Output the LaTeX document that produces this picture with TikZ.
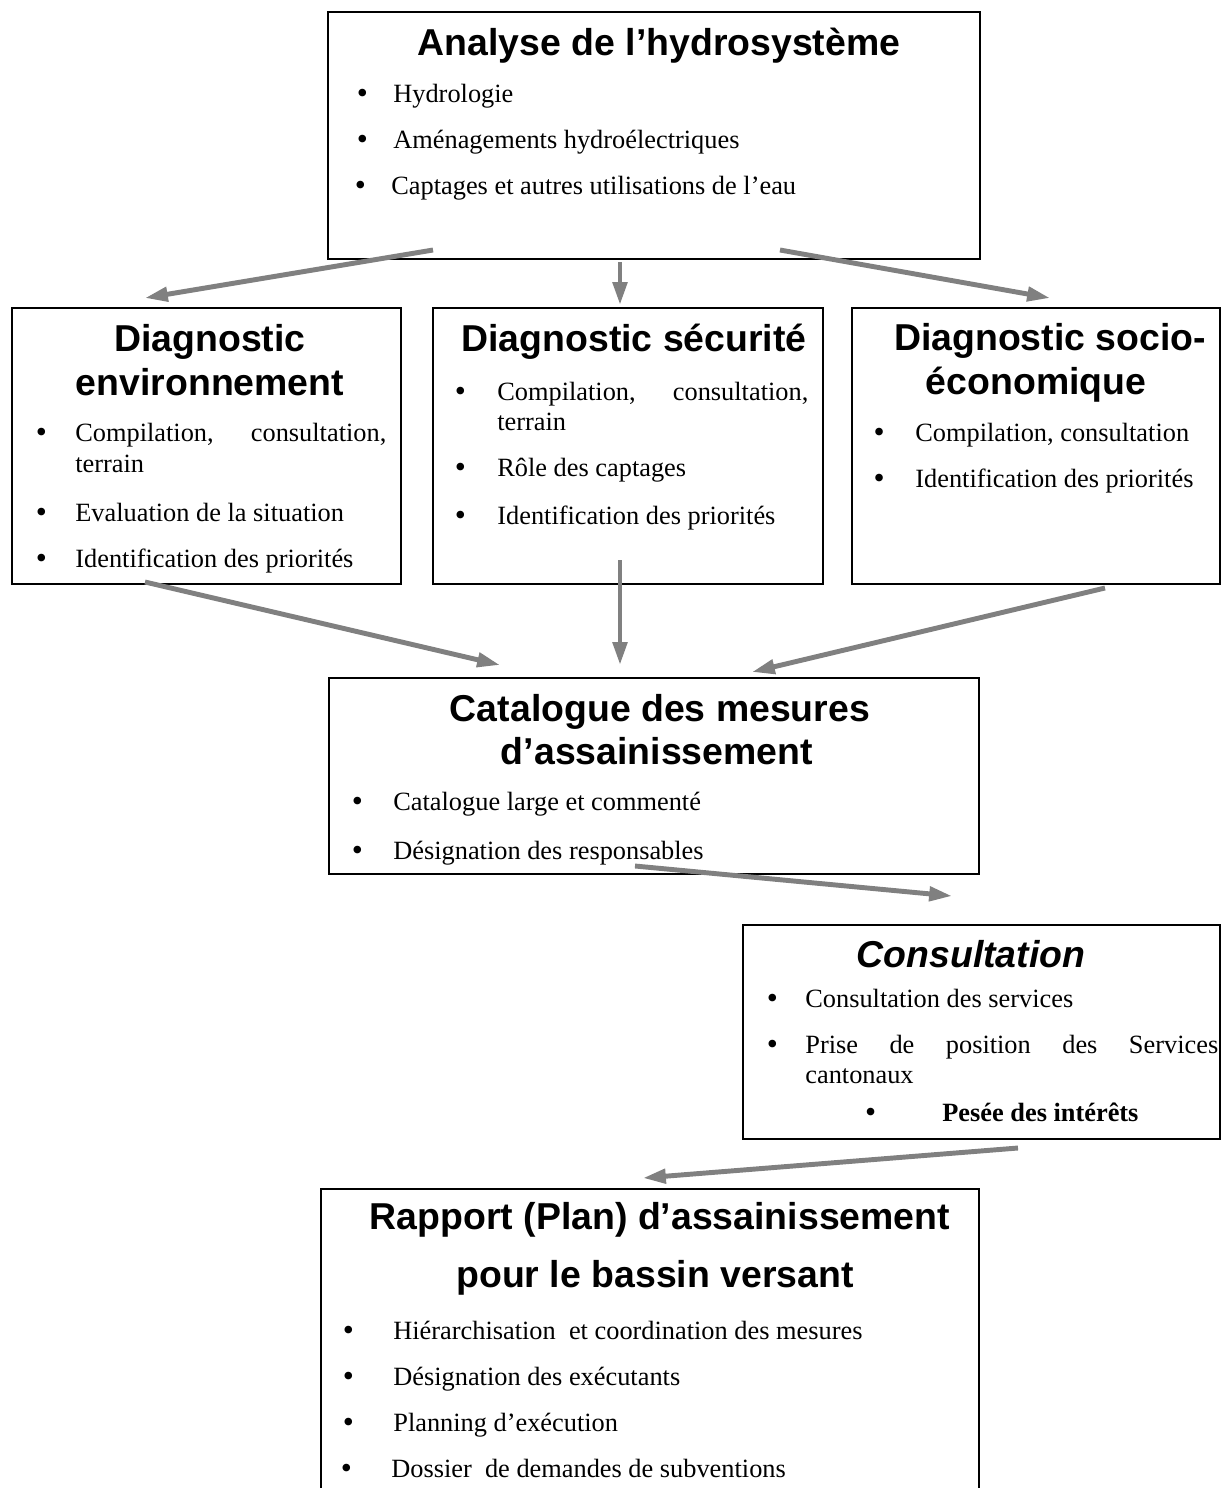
\documentclass[tikz,border=0pt]{standalone}
\usepackage{fontspec}
\setmainfont{Liberation Serif}
\setsansfont{Liberation Sans}
\usetikzlibrary{arrows.meta,calc}

\definecolor{gris}{HTML}{808080}
\newcommand{\corps}{\fontsize{15}{17}\selectfont}
\newcommand{\titrefont}{\sffamily\bfseries\fontsize{21.3}{25}\selectfont}
\newcommand{\puce}[2][17pt]{\llap{\raisebox{-0.8pt}{\fontsize{18}{18}\selectfont\textbullet}\hspace{#1}}#2}

\begin{document}
\begin{tikzpicture}[
    x=0.02cm, y=-0.02cm,
    bloc/.style={rectangle, draw, line width=1.3pt, inner sep=0, anchor=north west},
    titre/.style={anchor=base, inner sep=0, font=\titrefont},
    item/.style={anchor=base west, inner sep=0, font=\corps},
    arrow/.style={-{Triangle[length=13pt,width=8pt]}, line width=2.8pt, draw=gris}
]
\useasboundingbox (0,0) rectangle (1221,1488);

% Boxes
\node[bloc, minimum width=13.04cm, minimum height=4.94cm] (ana) at (327,11) {};
\node[bloc, minimum width=7.78cm, minimum height=5.52cm] (env) at (11,307) {};
\node[bloc, minimum width=7.8cm, minimum height=5.52cm] (secu) at (432,307) {};
\node[bloc, minimum width=7.36cm, minimum height=5.52cm] (socio) at (851,307) {};
\node[bloc, minimum width=13cm, minimum height=3.92cm] (cat) at (328,677) {};
\node[bloc, minimum width=9.54cm, minimum height=4.28cm] (consult) at (742,924) {};
\node[bloc, minimum width=13.16cm, minimum height=6.64cm] (rapport) at (320,1188) {};

% Analyse
\node[titre] (ana-t) at (659,55) {Analyse de l’hydrosystème};
\node[item] (ana-1) at (393,102) {\puce[14.5pt]{Hydrologie}};
\node[item] (ana-2) at (393,148) {\puce[14.5pt]{Aménagements hydroélectriques}};
\node[item] (ana-3) at (391,194) {\puce[14.5pt]{Captages et autres utilisations de l’eau}};

% Diagnostic environnement
\node[titre] (env-t1) at (210,351) {Diagnostic};
\node[titre] (env-t2) at (210,395) {environnement};
\node[item] (env-1) at (75,441) {\puce[16.2pt]{\makebox[177pt][s]{Compilation, consultation,}}};
\node[item] (env-1b) at (75,472) {terrain};
\node[item] (env-2) at (75,521) {\puce[16.2pt]{Evaluation de la situation}};
\node[item] (env-3) at (75,567) {\puce[16.2pt]{Identification des priorités}};

% Diagnostic securite
\node[titre] (secu-t) at (634,351) {Diagnostic sécurité};
\node[item] (secu-1) at (497,400) {\puce[17.9pt]{\makebox[177pt][s]{Compilation, consultation,}}};
\node[item] (secu-1b) at (497,430) {terrain};
\node[item] (secu-2) at (497,476) {\puce[17.9pt]{Rôle des captages}};
\node[item] (secu-3) at (497,524) {\puce[17.9pt]{Identification des priorités}};

% Diagnostic socio-economique
\node[titre] (socio-t1) at (1050,350) {Diagnostic socio-};
\node[titre] (socio-t2) at (1036,394) {économique};
\node[item] (socio-1) at (915,441) {\puce[17.5pt]{Compilation, consultation}};
\node[item] (socio-2) at (915,487) {\puce[17.5pt]{Identification des priorités}};

% Catalogue
\node[titre] (cat-t1) at (660,721) {Catalogue des mesures};
\node[titre] (cat-t2) at (657,764) {d’assainissement};
\node[item] (cat-1) at (393,810) {\puce[17.3pt]{Catalogue large et commenté}};
\node[item] (cat-2) at (393,859) {\puce[17.3pt]{Désignation des responsables}};

% Consultation
\node[titre, font=\titrefont\itshape] (consult-t) at (971,967) {Consultation};
\node[item] (consult-1) at (805,1007) {\puce[15.6pt]{Consultation des services}};
\node[item] (consult-2) at (805,1053) {\puce[15.6pt]{\makebox[235pt][s]{Prise de position des Services}}};
\node[item] (consult-2b) at (805,1083) {cantonaux};
\node[item] (consult-3) at (942,1121) {\puce[37.7pt]{\textbf{Pesée des intérêts}}};

% Rapport
\node[titre] (rapport-t1) at (660,1229) {Rapport (Plan) d’assainissement};
\node[titre] (rapport-t2) at (655,1287) {pour le bassin versant};
\node[item] (rapport-1) at (393,1339) {\puce[22.4pt]{Hiérarchisation\ \ et coordination des mesures}};
\node[item] (rapport-2) at (393,1385) {\puce[22.4pt]{Désignation des exécutants}};
\node[item] (rapport-3) at (393,1431) {\puce[22.4pt]{Planning d’exécution}};
\node[item] (rapport-4) at (391,1477) {\puce[22.4pt]{Dossier\ \ de demandes de subventions}};

% Arrow ends
\coordinate (ana-g) at (433,250);
\coordinate (ana-m) at (620,262);
\coordinate (ana-d) at (780,250);
\coordinate (env-h) at (145,298);
\coordinate (secu-h) at (620,305);
\coordinate (socio-h) at (1050,298);
\coordinate (env-b) at (145,582);
\coordinate (secu-b) at (620,560);
\coordinate (socio-b) at (1105,588);
\coordinate (cat-g) at (500,665);
\coordinate (cat-m) at (620,665);
\coordinate (cat-d) at (752,672);
\coordinate (cat-b) at (635,866);
\coordinate (consult-h) at (952,896);
\coordinate (consult-b) at (1018,1148);
\coordinate (rapport-h) at (643,1178);

% Arrows
\foreach \s/\e in {ana-g/env-h, ana-m/secu-h, ana-d/socio-h,
                   env-b/cat-g, secu-b/cat-m, socio-b/cat-d,
                   cat-b/consult-h, consult-b/rapport-h}
  \draw[arrow] (\s) -- (\e);

\end{tikzpicture}
\end{document}
